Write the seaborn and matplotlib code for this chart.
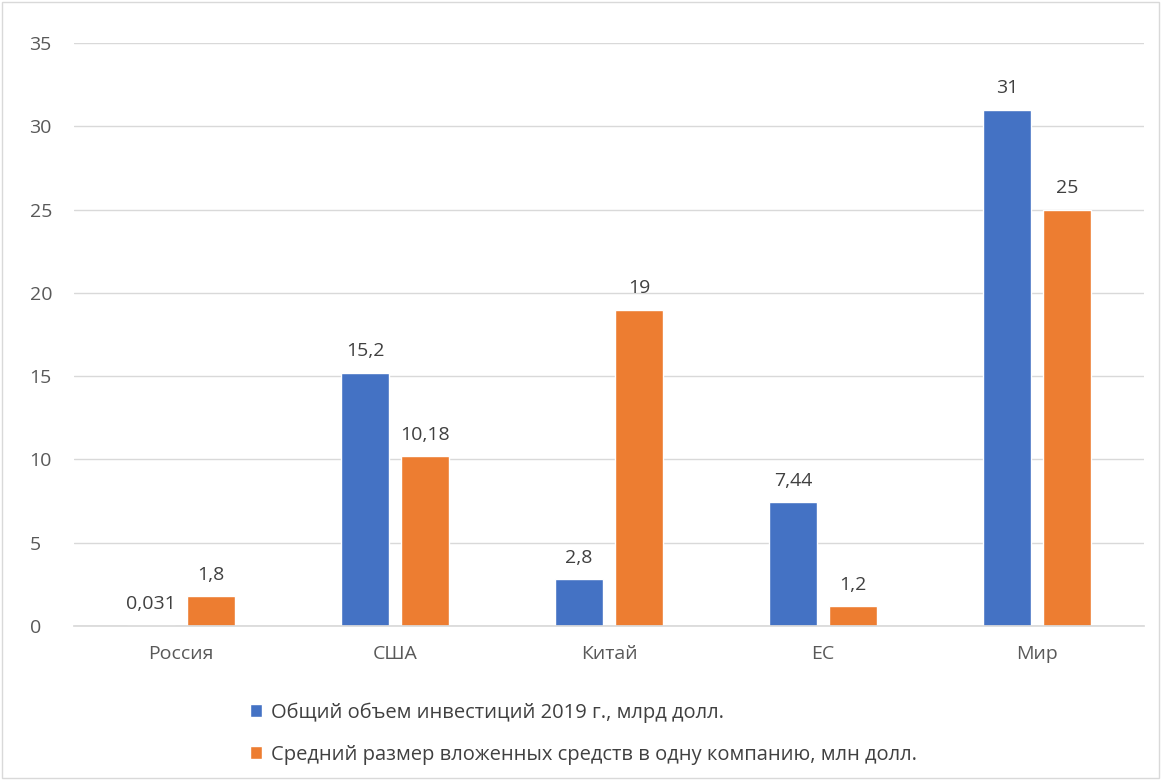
import numpy as np
import pandas as pd
import matplotlib
matplotlib.use("Agg")
import matplotlib.pyplot as plt
import seaborn as sns
from matplotlib.patches import Rectangle

#####################################
# data
#####################################
regions = ["Россия", "США", "Китай", "ЕС", "Мир"]
total_invest = [0.031, 15.2, 2.8, 7.44, 31]
avg_per_company = [1.8, 10.18, 19, 1.2, 25]
total_labels = ["0,031", "15,2", "2,8", "7,44", "31"]
avg_labels = ["1,8", "10,18", "19", "1,2", "25"]
series_names = ["Общий объем инвестиций 2019 г., млрд долл.",
                "Средний размер вложенных средств в одну компанию, млн долл."]

df = pd.DataFrame({
    "region": regions * 2,
    "value": total_invest + avg_per_company,
    "series": [series_names[0]] * len(regions) + [series_names[1]] * len(regions),
})

#####################################
# style
#####################################
sns.set_theme(style="white")
plt.rcParams["font.family"] = ["Open Sans", "DejaVu Sans"]
text_color = "#404040"
tick_color = "#595959"
grid_color = "#D9D9D9"
fs = 14

fig = plt.figure(figsize=(11.61, 7.80), dpi=100)
ax = fig.add_axes([74 / 1161, 1 - 626 / 780, (1144 - 74) / 1161, (626 - 43) / 780])

sns.barplot(data=df, x="region", y="value", hue="series",
            palette=["#4472C4", "#ED7D31"], width=0.56, gap=0.2,
            saturation=1, ax=ax, legend=True)

ax.set_xlim(-0.5, len(regions) - 0.5)
ax.set_ylim(0, 35)
ax.set_yticks(np.arange(0, 36, 5))
ax.yaxis.grid(True, color=grid_color, linewidth=1)
ax.set_axisbelow(True)
for side in ["left", "right", "top"]:
    ax.spines[side].set_visible(False)
ax.spines["bottom"].set_color(grid_color)
ax.set_xlabel("")
ax.set_ylabel("")
ax.tick_params(axis="both", length=0, labelsize=fs, colors=tick_color)
ax.tick_params(axis="x", pad=14)
ax.tick_params(axis="y", pad=32)
for lab in ax.get_yticklabels():
    lab.set_horizontalalignment("left")

# value labels
for cont, labels in zip(ax.containers, [total_labels, avg_labels]):
    ax.bar_label(cont, labels=labels, padding=9, fontsize=fs, color=text_color)

# legend below
handles, labs = ax.get_legend_handles_labels()
ax.legend_.remove()
fig.legend(handles, labs, loc="upper left", bbox_to_anchor=(232 / 1161, 1 - 684 / 780),
           frameon=False, fontsize=14.5, labelcolor=text_color,
           handlelength=0.6, handleheight=0.6, handletextpad=0.45,
           labelspacing=1.1)

# outer border
fig.patches.append(Rectangle((0.002, 0.002), 0.996, 0.996, transform=fig.transFigure,
                             fill=False, edgecolor=grid_color, linewidth=1))

fig.savefig("out.png", dpi=100)
